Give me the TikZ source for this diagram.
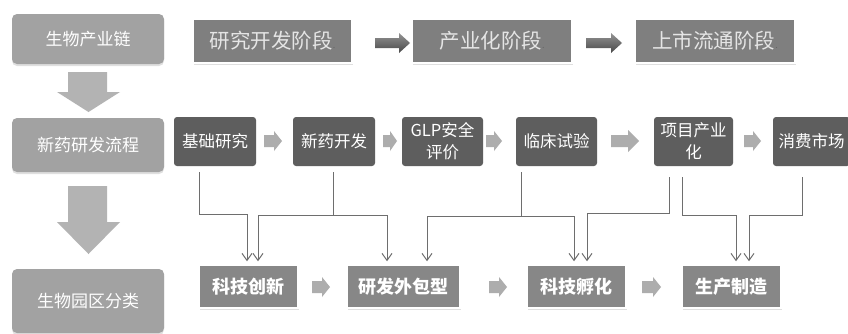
\documentclass[tikz,border=0pt]{standalone}
\usepackage{fontspec}
\setmainfont{Noto Sans CJK SC}
\usetikzlibrary{arrows.meta,shadows}
\definecolor{sidegray}{HTML}{A2A2A2}
\definecolor{stagegray}{HTML}{7F7F7F}
\definecolor{flowgray}{HTML}{5E5E5E}
\definecolor{parkgray}{HTML}{878787}
\definecolor{bigarrow}{HTML}{B3B3B3}
\definecolor{smallarrow}{HTML}{ADADAD}
\definecolor{conngray}{HTML}{6E6E6E}
\newcommand\blockarrow[7]{%
  \path[#7] (#1,#3-#4) -- (#2-#6,#3-#4) -- (#2-#6,#3-#5) -- (#2,#3) -- (#2-#6,#3+#5) -- (#2-#6,#3+#4) -- (#1,#3+#4) -- cycle;}
\tikzset{
  sidebox/.style={rounded corners=5pt, fill=sidegray, text=white, minimum width=152pt,
    inner sep=0pt, font=\fontsize{17}{17}\selectfont,
    drop shadow={shadow xshift=0pt, shadow yshift=-2pt, opacity=0.25}},
  stagebox/.style={fill=stagegray, draw=white, line width=1.5pt, text=white!90!black,
    minimum width=160pt, minimum height=44pt, inner sep=0pt,
    font=\fontsize{20.5}{20.5}\selectfont,
    drop shadow={shadow xshift=0.5pt, shadow yshift=-2pt, opacity=0.25}},
  flowbox/.style={fill=flowgray, rounded corners=3pt, text=white, minimum height=49pt,
    inner sep=0pt, align=center, font=\fontsize{16.5}{22}\selectfont},
  parkbox/.style={fill=parkgray, draw=white, line width=1.5pt, text=white,
    minimum width=99pt, minimum height=43pt, inner sep=0pt,
    font=\fontsize{18}{18}\selectfont\bfseries,
    drop shadow={shadow xshift=0.5pt, shadow yshift=-2pt, opacity=0.25}},
  conn/.style={draw=conngray, line width=1pt, -{Straight Barb[length=7pt,width=10pt]}},
  smallarr/.style={fill=smallarrow},
  bigarr/.style={fill=bigarrow},
  stagearr/.style={top color=black!42, bottom color=black!72, shading angle=0},
}
\newcommand\dotmark{{\fontsize{9}{9}\selectfont\textcolor{black!60}{.}}}
\begin{document}
\begin{tikzpicture}[x=1pt,y=-1pt]
\fill[white] (0,0) rectangle (848,333);
\useasboundingbox (0,0) rectangle (848,333);

% left column
\node[sidebox, minimum height=50pt] (chain) at (88,39) {生物产业链};
\node[sidebox, minimum height=54pt] (proc) at (88,145) {新药研发流程};
\node[sidebox, minimum height=64pt] (park) at (88,301) {生物园区分类};

\fill[bigarr] (68,72) -- (107,72) -- (107,92) -- (120,92) -- (88.5,112) -- (57,92) -- (68,92) -- cycle;
\fill[bigarr] (68,186) -- (107,186) -- (107,222) -- (120,222) -- (88.5,254) -- (57,222) -- (68,222) -- cycle;

% row 1
\node[stagebox, minimum width=159pt] (s1) at (272.5,41) {研究开发阶段\dotmark};
\node[stagebox] (s2) at (492,41) {产业化阶段\dotmark};
\node[stagebox] (s3) at (715,41) {上市流通阶段\dotmark};
\blockarrow{375}{410}{43}{5}{10}{11}{stagearr}
\blockarrow{586}{622}{43}{5}{10}{11}{stagearr}

% row 2
\node[flowbox, minimum width=82pt] (jc) at (215,141.5) {基础研究};
\node[flowbox, minimum width=82pt] (xy) at (334,141.5) {新药开发};
\node[flowbox, minimum width=81pt] (glp) at (442.5,141.5) {GLP安全\\评价};
\node[flowbox, minimum width=81pt] (lc) at (556.5,141.5) {临床试验};
\node[flowbox, minimum width=79pt] (xm) at (693.5,141.5) {项目产业\\化};
\node[flowbox, minimum width=77pt] (xf) at (811.5,141.5) {消费市场};
\blockarrow{264}{282}{141}{6}{10}{8}{smallarr}
\blockarrow{383}{397}{141}{6}{10}{7}{smallarr}
\blockarrow{486}{502}{141}{6}{10}{8}{smallarr}
\blockarrow{611}{639}{141}{6}{11}{11}{smallarr}
\blockarrow{744}{761}{141}{6}{10}{8}{smallarr}

% row 3
\node[parkbox] (kc) at (248.5,286.5) {科技创新};
\node[parkbox, minimum width=113pt] (yf) at (403.5,286.5) {研发外包型};
\node[parkbox] (kf) at (576.5,286.5) {科技孵化};
\node[parkbox] (sc) at (731.5,286.5) {生产制造};
\blockarrow{312}{330}{287}{6}{10}{8}{smallarr}
\blockarrow{489}{507}{287}{6}{10}{8}{smallarr}
\blockarrow{642}{661}{287}{6}{10}{8}{smallarr}

% connectors
\draw[conn] ([shift={(-16,6)}]jc.south) -- ++(0,42) -| ([shift={(-1.5,-3)}]kc.north);
\draw[conn] ([shift={(-1,6)}]xy.south) -- ++(0,43) coordinate (j2) -| ([shift={(9.5,-3)}]kc.north);
\draw[conn] (j2) -| ([shift={(-16.5,-3)}]yf.north);
\draw[conn] ([shift={(-35.5,6)}]lc.south) -- ++(0,44) coordinate (j3) -| ([shift={(23.5,-3)}]yf.north);
\draw[conn] (j3) -| ([shift={(-2.5,-3)}]kf.north);
\draw[conn] ([shift={(-24.5,11)}]xm.south) -- ++(0,36) -| ([shift={(10.5,-3)}]kf.north);
\draw[conn] ([shift={(-11.5,11)}]xm.south) -- ++(0,38) -| ([shift={(4.5,-3)}]sc.north);
\draw[conn] ([shift={(-9.5,11)}]xf.south) -- ++(0,38) -| ([shift={(17.5,-3)}]sc.north);
\end{tikzpicture}
\end{document}
